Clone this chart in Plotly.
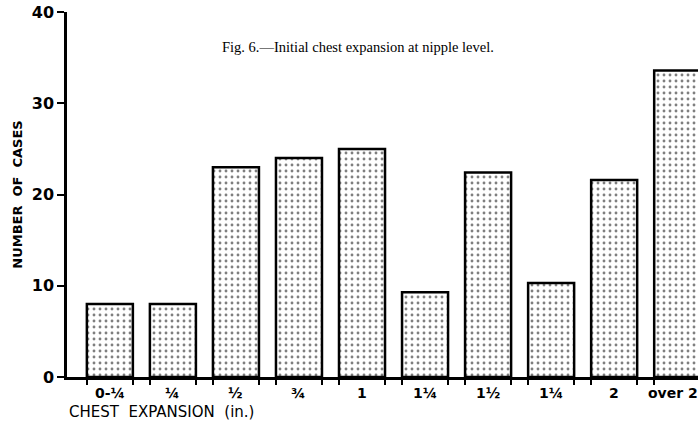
import plotly.graph_objects as go

categories = ["0-¼", "¼", "½", "¾", "1", "1¼", "1½", "1¼", "2", "over 2"]
cases = [8, 8, 23, 24, 25, 9.3, 22.4, 10.3, 21.6, 33.6]
y_ticks = [0, 10, 20, 30, 40]

bar_width = 0.73
positions = list(range(len(categories)))
edges = []
for p in positions:
    edges += [p - bar_width / 2, p + bar_width / 2]

x_range = [-0.68, 9.33]

fig = go.Figure()
fig.add_trace(go.Bar(
    x=positions, y=cases, width=bar_width,
    marker=dict(color="white",
                line=dict(color="black", width=2.5),
                pattern=dict(shape=".", fgcolor="black", bgcolor="white",
                             size=6, solidity=0.18)),
    showlegend=False, hoverinfo="skip",
))
fig.add_trace(go.Scatter(x=x_range, y=[0, 0], xaxis="x2", mode="lines",
                         line=dict(width=0), showlegend=False, hoverinfo="skip"))

label_font = dict(family="DejaVu Sans", size=14, color="black", weight="bold")

annotations = [
    dict(text="Fig. 6.—Initial chest expansion at nipple level.",
         xref="paper", yref="paper", x=0.242, y=0.905, xanchor="left", yanchor="middle",
         showarrow=False, font=dict(family="Liberation Serif", size=14.5, color="black")),
    dict(text="CHEST  EXPANSION  (in.)",
         xref="paper", yref="paper", x=0.0, y=0, yshift=-24, xanchor="left", yanchor="top",
         showarrow=False, font=dict(family="DejaVu Sans", size=15, color="black")),
]
for p, lab in zip(positions, categories):
    annotations.append(dict(text=lab, xref="x", yref="paper", x=p, y=0, yshift=-6,
                            xshift=-4 if p == positions[-1] else 0,
                            xanchor="center", yanchor="top", showarrow=False,
                            font=label_font))

fig.update_layout(
    width=698, height=424,
    margin=dict(l=67, r=0, t=12, b=47),
    paper_bgcolor="white", plot_bgcolor="white",
    xaxis=dict(range=x_range, showticklabels=False, ticks="", showgrid=False,
               zeroline=False, showline=True, linecolor="black", linewidth=2.5,
               automargin=False),
    xaxis2=dict(range=x_range, overlaying="x", anchor="y", side="bottom",
                tickvals=edges, ticks="outside", ticklen=7, tickwidth=2,
                tickcolor="black", showticklabels=False, showgrid=False,
                zeroline=False, showline=False, automargin=False),
    yaxis=dict(range=[0, 40], tickvals=y_ticks, ticks="outside", ticklen=7,
               tickwidth=2, tickcolor="black", showgrid=False, zeroline=False,
               showline=True, linecolor="black", linewidth=2.5, automargin=False,
               tickfont=dict(family="DejaVu Sans", size=16, color="black", weight="bold"),
               title=dict(text="NUMBER  OF  CASES", standoff=7,
                          font=dict(family="DejaVu Sans", size=13, color="black", weight="bold"))),
    annotations=annotations,
)

fig.write_html("out.html", config={"displayModeBar": False},
               post_script="document.body.style.margin='0';document.body.style.overflow='hidden';")
